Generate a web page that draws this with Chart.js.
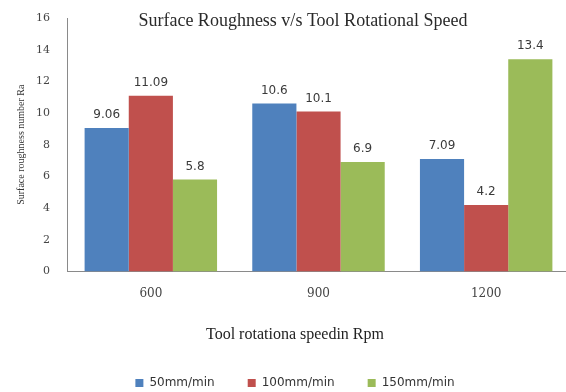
<!DOCTYPE html>
<html>
<head>
<meta charset="utf-8">
<script src="https://cdn.jsdelivr.net/npm/chart.js@4.4.1/dist/chart.umd.min.js"></script>
<style>
  html, body { margin: 0; padding: 0; background: #fff; overflow: hidden; width: 566px; height: 392px; }
  #wrap { width: 606px; height: 392px; }
</style>
</head>
<body>
<div id="wrap"><canvas id="c" width="606" height="392"></canvas></div>
<script>
// Rotational speeds (rpm) on the category axis
const speeds = ['600', '900', '1200'];
// Surface roughness Ra for each feed rate
const feed50 = [9.06, 10.6, 7.09];
const feed100 = [11.09, 10.1, 4.2];
const feed150 = [5.8, 6.9, 13.4];
const seriesNames = ['50mm/min', '100mm/min', '150mm/min'];
const seriesColors = ['#4F81BD', '#C0504D', '#9BBB59'];
const chartTitle = 'Surface Roughness v/s Tool Rotational Speed';
const xTitle = 'Tool rotationa speedin Rpm';
const yTitle = 'Surface roughness number Ra';
const yMin = 0, yMax = 16, yStep = 2;

// Value printed above each bar
const valueLabels = {
  id: 'valueLabels',
  afterDatasetsDraw(chart) {
    const ctx = chart.ctx;
    ctx.save();
    ctx.font = '12px "DejaVu Sans"';
    ctx.fillStyle = '#3a3a3a';
    ctx.textAlign = 'center';
    ctx.textBaseline = 'middle';
    chart.data.datasets.forEach((ds, i) => {
      chart.getDatasetMeta(i).data.forEach((bar, j) => {
        ctx.fillText(String(ds.data[j]), bar.x, bar.y - 13);
      });
    });
    ctx.restore();
  }
};

// Chart heading, drawn over the top of the plot area
const headTitle = {
  id: 'headTitle',
  afterDraw(chart) {
    const ctx = chart.ctx;
    ctx.save();
    ctx.font = '18px "Liberation Serif"';
    ctx.fillStyle = '#2a2a2a';
    ctx.textAlign = 'center';
    ctx.textBaseline = 'middle';
    ctx.fillText(chartTitle, chart.width / 2, 21);
    ctx.restore();
  }
};

const seriesData = [feed50, feed100, feed150];

new Chart(document.getElementById('c'), {
  type: 'bar',
  data: {
    labels: speeds,
    datasets: seriesNames.map((name, i) => ({
      label: name,
      data: seriesData[i],
      backgroundColor: seriesColors[i],
      borderWidth: 0,
      categoryPercentage: 0.79,
      barPercentage: 1.0
    }))
  },
  options: {
    responsive: false,
    animation: false,
    layout: { padding: { top: 18, left: 20, right: 36, bottom: 0 } },
    plugins: {
      legend: {
        position: 'bottom',
        maxHeight: 48,
        labels: {
          boxWidth: 8,
          boxHeight: 8,
          padding: 33,
          color: '#333',
          font: { family: 'DejaVu Sans', size: 12 }
        }
      },
      subtitle: {
        display: true,
        text: xTitle,
        position: 'bottom',
        weight: 500,
        padding: { top: 9, bottom: 0 },
        color: '#222',
        font: { family: 'Liberation Serif', size: 16, weight: 'normal' }
      },
      tooltip: { enabled: false }
    },
    scales: {
      x: {
        grid: { display: false, drawTicks: false },
        border: { color: '#8a8a8a' },
        ticks: { padding: 15, color: '#444', font: { family: 'DejaVu Serif', size: 12 } }
      },
      y: {
        min: yMin,
        max: yMax,
        afterFit(scale) {
          scale.width = 47;
          scale.paddingTop = 7;
        },
        grid: { display: false, drawTicks: false },
        border: { color: '#8a8a8a' },
        ticks: { stepSize: yStep, padding: 17, color: '#444', font: { family: 'DejaVu Serif', size: 11 } },
        title: {
          display: true,
          text: yTitle,
          padding: { top: -5, bottom: 0 },
          color: '#333',
          font: { family: 'Liberation Serif', size: 10 }
        }
      }
    }
  },
  plugins: [valueLabels, headTitle]
});
</script>
</body>
</html>
